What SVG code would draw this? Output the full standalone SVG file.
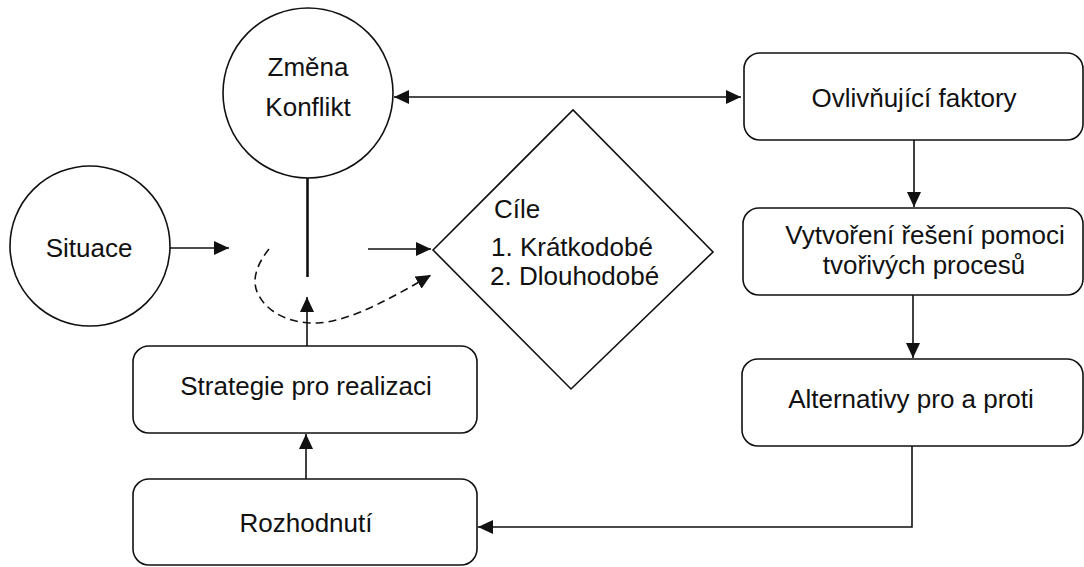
<svg xmlns="http://www.w3.org/2000/svg" width="1084" height="567" viewBox="0 0 1084 567">
  <style>
    .shape { fill: #ffffff; stroke: #111111; stroke-width: 1.6; }
    .label { font-family: "Liberation Sans", Arial, sans-serif; font-size: 26px; fill: #111111; }
    .mid { text-anchor: middle; }
    .edge { fill: none; stroke: #111111; stroke-width: 1.6; }
    .thick { stroke-width: 2.6; }
    .dashed { stroke-dasharray: 8 5; }
  </style>
  <defs>
    <marker id="arrow" viewBox="0 0 15 14" refX="15" refY="7" markerWidth="15" markerHeight="14" markerUnits="userSpaceOnUse" orient="auto-start-reverse">
      <path d="M0,0 L15,7 L0,14 z" fill="#111111"/>
    </marker>
  </defs>
  <rect width="1084" height="567" fill="#ffffff"/>

  <!-- connectors -->
  <g id="connectors">
    <path class="edge" d="M170,248 H229" marker-end="url(#arrow)"/>
    <path class="edge" d="M368,249 H431" marker-end="url(#arrow)"/>
    <path class="edge" d="M394,97 H741" marker-start="url(#arrow)" marker-end="url(#arrow)"/>
    <path class="edge" d="M914,140 V207" marker-end="url(#arrow)"/>
    <path class="edge" d="M913,295 V358" marker-end="url(#arrow)"/>
    <path class="edge" d="M912,446 V527 H478" marker-end="url(#arrow)"/>
    <path class="edge" d="M306,479 V434" marker-end="url(#arrow)"/>
    <path class="edge" d="M307,347 V297" marker-end="url(#arrow)"/>
    <path class="edge thick" d="M307.5,178 V277"/>
    <path class="edge dashed" d="M269,249 C257,264 251,280 258,294 C268,314 292,324 318,323 C352,321 395,296 431,275" marker-end="url(#arrow)"/>
  </g>

  <g id="situace">
    <circle class="shape" cx="90" cy="246" r="80"/>
    <text class="label mid" x="89" y="257">Situace</text>
  </g>

  <g id="zmena-konflikt">
    <circle class="shape" cx="308" cy="93" r="85"/>
    <text class="label mid" x="308" y="76">Změna</text>
    <text class="label mid" x="308" y="116">Konflikt</text>
  </g>

  <g id="cile">
    <polygon class="shape" points="433,250 573,110 713,252 571,389"/>
    <text class="label" x="494" y="218">Cíle</text>
    <text class="label" x="491" y="256">1. Krátkodobé</text>
    <text class="label" x="490" y="285">2. Dlouhodobé</text>
  </g>

  <g id="ovlivnujici-faktory">
    <rect class="shape" x="744" y="53" width="339" height="87" rx="16"/>
    <text class="label mid" x="914" y="107">Ovlivňující faktory</text>
  </g>

  <g id="vytvoreni-reseni">
    <rect class="shape" x="743" y="208" width="340" height="87" rx="16"/>
    <text class="label mid" x="925" y="244">Vytvoření řešení pomoci</text>
    <text class="label mid" x="924" y="274">tvořivých procesů</text>
  </g>

  <g id="alternativy">
    <rect class="shape" x="742" y="359" width="341" height="87" rx="16"/>
    <text class="label mid" x="911" y="408">Alternativy pro a proti</text>
  </g>

  <g id="strategie">
    <rect class="shape" x="133" y="346" width="344" height="87" rx="16"/>
    <text class="label mid" x="306" y="395">Strategie pro realizaci</text>
  </g>

  <g id="rozhodnuti">
    <rect class="shape" x="133" y="479" width="344" height="86" rx="16"/>
    <text class="label mid" x="306" y="532">Rozhodnutí</text>
  </g>
</svg>
